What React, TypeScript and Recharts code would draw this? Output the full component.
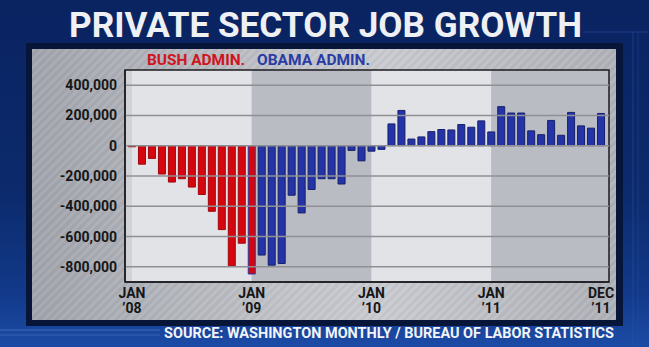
import React from "react";
import {
  BarChart,
  Bar,
  XAxis,
  YAxis,
  CartesianGrid,
  ReferenceArea,
  ReferenceLine,
  Cell,
} from "recharts";

// ---- data ----
const monthNames = ["JAN", "FEB", "MAR", "APR", "MAY", "JUN", "JUL", "AUG", "SEP", "OCT", "NOV", "DEC"];
const years = ["08", "09", "10", "11"];
const categories = years.flatMap((y) => monthNames.map((m) => `${m} \u2019${y}`));

const jobs2008 = [-7000, -122000, -84000, -187000, -240000, -218000, -273000, -322000, -433000, -554000, -793000, -644000];
const jobs2009 = [-847000, -722000, -789000, -778000, -327000, -444000, -289000, -218000, -218000, -253000, -31000, -100000];
const jobs2010 = [-36000, -24000, 144000, 233000, 44000, 58000, 93000, 107000, 104000, 140000, 122000, 164000];
const jobs2011 = [91000, 258000, 216000, 216000, 98000, 73000, 167000, 69000, 220000, 131000, 116000, 213000];
const jobs = [...jobs2008, ...jobs2009, ...jobs2010, ...jobs2011];

const bushMonthCount = 13; // Jan '08 .. Jan '09
const tickCats = ["JAN \u201908", "JAN \u201909", "JAN \u201910", "JAN \u201911", "DEC \u201911"];
const yTicks = [-800000, -600000, -400000, -200000, 0, 200000, 400000];
const yearBands = [
  { x1: 0, x2: 12, fill: "#e2e3e6" },
  { x1: 12, x2: 24, fill: "#babcc3" },
  { x1: 24, x2: 36, fill: "#e2e3e6" },
  { x1: 36, x2: 47.8, fill: "#babcc3" },
];

const data = categories.map((month, idx) => ({ month, idx, jobs: jobs[idx] }));

const FONT = "Roboto, 'Liberation Sans', sans-serif";
const RED = "#d6060e";
const BLUE = "#2434a8";

const XTick = (props: any) => {
  const { x, y, payload } = props;
  const [a, b] = String(payload.value).split(" ");
  return (
    <text x={x} y={y} textAnchor="middle" fontFamily={FONT} fontWeight={700} fontSize={14} fill="#161618">
      <tspan x={x} dy={8}>{a}</tspan>
      <tspan x={x} dy={15}>{b}</tspan>
    </text>
  );
};

const fmt = (v: number) => (v === 0 ? "0" : v.toLocaleString("en-US"));

export default function App() {
  const border = { stroke: "#1b1b20", strokeWidth: 1.5 };
  return (
    <div
      style={{
        position: "absolute",
        left: 0,
        top: 0,
        width: 649,
        height: 347,
        overflow: "hidden",
        background: "linear-gradient(180deg, #0a2361 0%, #0c2a6c 55%, #123a8a 85%, #1c4ba6 100%)",
        fontFamily: FONT,
      }}
    >
      {/* panel frame */}
      <div style={{ position: "absolute", left: 26, top: 43, width: 597, height: 283, background: "#061538" }} />
      <div
        style={{
          position: "absolute",
          left: 32,
          top: 49,
          width: 584,
          height: 271,
          background:
            "repeating-linear-gradient(135deg, rgba(255,255,255,0.05) 0px, rgba(255,255,255,0.05) 3px, rgba(0,0,0,0.03) 3px, rgba(0,0,0,0.03) 6px), linear-gradient(90deg, #a2a5ad 0%, #c3c5ca 45%, #c9cbd0 60%, #b0b2b9 100%)",
        }}
      />
      <div style={{ position: "absolute", left: 0, top: 0 }}>
        <BarChart
          width={649}
          height={347}
          data={data}
          margin={{ top: 70, right: 40, bottom: 25, left: 65 }}
          barCategoryGap="15%"
        >
          <CartesianGrid horizontal={false} vertical={false} fill="#d2d3d7" fillOpacity={1} />
          <XAxis
            dataKey="month"
            ticks={tickCats}
            interval={0}
            tick={<XTick />}
            tickLine={false}
            axisLine={border}
            height={40}
            padding={{ left: 2, right: 3 }}
          />
          <XAxis
            xAxisId="num"
            type="number"
            dataKey="idx"
            domain={[-0.5, 47.5]}
            orientation="top"
            height={0}
            tick={false}
            tickLine={false}
            axisLine={false}
            padding={{ left: 2, right: 3 }}
          />
          <YAxis
            domain={[-900000, 500000]}
            ticks={yTicks}
            width={60}
            tickFormatter={fmt}
            tick={{ fontFamily: FONT, fontWeight: 700, fontSize: 14, fill: "#161618" }}
            tickLine={false}
            axisLine={border}
          />
          {yearBands.map((b, i) => (
            <ReferenceArea
              key={i}
              xAxisId="num"
              x1={b.x1}
              x2={b.x2}
              fill={b.fill}
              fillOpacity={1}
              stroke="none"
              ifOverflow="visible"
            />
          ))}
          {yTicks.map((v) => (
            <ReferenceLine key={v} y={v} stroke="#8e9096" strokeWidth={1.5} />
          ))}
          <ReferenceArea
            xAxisId="num"
            x1={-0.7}
            x2={47.8}
            y1={-900000}
            y2={500000}
            fill="none"
            stroke="#1b1b20"
            strokeWidth={1.5}
            ifOverflow="visible"
          />
          <Bar dataKey="jobs" isAnimationActive={false}>
            {data.map((d, i) => (
              <Cell
                key={i}
                fill={i < bushMonthCount ? RED : BLUE}
                stroke={i === bushMonthCount - 1 ? "#2a36a0" : i < bushMonthCount ? "#a4060c" : "#17206a"}
                strokeWidth={1}
              />
            ))}
          </Bar>
        </BarChart>
      </div>
      <svg
        width={649}
        height={347}
        style={{ position: "absolute", left: 0, top: 0, pointerEvents: "none" }}
      >
        <line x1={583} y1={32} x2={649} y2={32} stroke="#2b55a8" strokeOpacity={0.5} strokeWidth={1} />
        <line x1={633} y1={32} x2={633} y2={347} stroke="#2b55a8" strokeOpacity={0.5} strokeWidth={1} />
        <line x1={638} y1={32} x2={638} y2={347} stroke="#2b55a8" strokeOpacity={0.4} strokeWidth={1} />
        <line x1={0} y1={330} x2={160} y2={330} stroke="#6d8fd0" strokeOpacity={0.5} strokeWidth={1} />
        <line x1={0} y1={335} x2={160} y2={335} stroke="#6d8fd0" strokeOpacity={0.4} strokeWidth={1} />
        <text
          x={69}
          y={37}
          fontFamily={FONT}
          fontWeight={700}
          fontSize={35}
          fill="#eef0f3"
          textLength={513}
          lengthAdjust="spacingAndGlyphs"
        >
          PRIVATE SECTOR JOB GROWTH
        </text>
        <text x={147} y={65} fontFamily={FONT} fontWeight={700} fontSize={15} fill="#cf1420" textLength={98} lengthAdjust="spacingAndGlyphs">
          BUSH ADMIN.
        </text>
        <text x={257} y={65} fontFamily={FONT} fontWeight={700} fontSize={15} fill="#2a3ca6" textLength={113} lengthAdjust="spacingAndGlyphs">
          OBAMA ADMIN.
        </text>
        <text
          x={164}
          y={338}
          fontFamily={FONT}
          fontWeight={700}
          fontSize={15}
          fill="#f2f4f8"
          textLength={450}
          lengthAdjust="spacingAndGlyphs"
        >
          SOURCE: WASHINGTON MONTHLY / BUREAU OF LABOR STATISTICS
        </text>
      </svg>
    </div>
  );
}
